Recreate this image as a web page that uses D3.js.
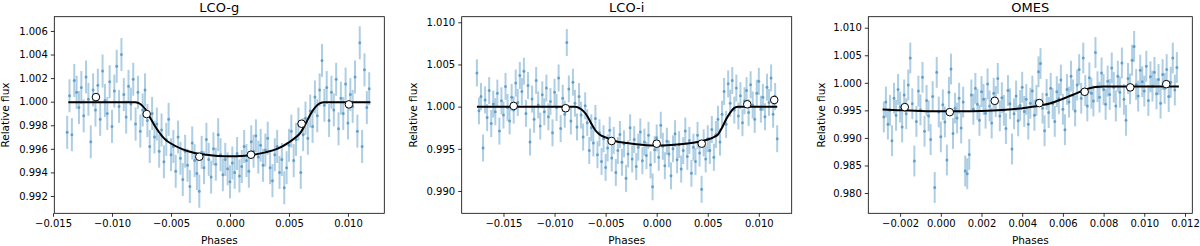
<!DOCTYPE html>
<html><head><meta charset="utf-8">
<script src="https://cdn.jsdelivr.net/npm/d3@7"></script>
<style>body{margin:0;background:#fff}svg{display:block}text{font-family:"DejaVu Sans",sans-serif}</style>
</head><body><svg id="c" width="1200" height="246"></svg>
<script>
const titles = ["LCO-g", "LCO-i", "OMES"];
const xLabel = "Phases";
const yLabel = "Relative flux";

// observed points [phase, relative flux]
const dataG = [
[-0.0138,0.9974],[-0.0136,1.0005],[-0.0134,0.9972],[-0.0132,1.0018],[-0.0130,1.0008],[-0.0128,0.9995],[-0.0126,1.0012],[-0.0124,0.9988],[-0.0122,1.0021],[-0.0120,1.0002],
[-0.0118,0.9966],[-0.0116,1.0010],[-0.0114,0.9993],[-0.0112,1.0014],[-0.0110,0.9985],[-0.0108,1.0026],[-0.0106,1.0001],[-0.0104,0.9990],[-0.0102,1.0017],[-0.0100,0.9979],
[-0.0098,1.0009],[-0.0096,1.0030],[-0.0094,0.9996],[-0.0092,1.0040],[-0.0090,1.0006],[-0.0088,0.9987],[-0.0086,1.0013],[-0.0084,0.9998],[-0.0082,1.0019],[-0.0080,0.9981],
[-0.0078,1.0008],[-0.0076,0.9975],[-0.0074,0.9993],[-0.0072,1.0010],[-0.0070,0.9984],[-0.0068,0.9962],[-0.0066,0.9990],[-0.0064,0.9970],[-0.0062,0.9981],[-0.0060,0.9958],
[-0.0058,0.9976],[-0.0056,0.9949],[-0.0054,0.9968],[-0.0052,0.9985],[-0.0050,0.9955],
[-0.0048,0.9962],[-0.0046,0.9941],[-0.0044,0.9970],[-0.0042,0.9952],[-0.0040,0.9934],[-0.0038,0.9958],[-0.0036,0.9946],[-0.0034,0.9928],[-0.0032,0.9965],[-0.0030,0.9950],
[-0.0028,0.9939],[-0.0026,0.9924],[-0.0024,0.9957],[-0.0022,0.9944],[-0.0020,0.9968],[-0.0018,0.9951],[-0.0016,0.9936],[-0.0014,0.9960],[-0.0012,0.9947],[-0.0010,0.9972],
[-0.0008,0.9955],[-0.0006,0.9938],[-0.0004,0.9951],[-0.0002,0.9943],[0.0000,0.9932],[0.0002,0.9948],[0.0004,0.9940],[0.0006,0.9956],[0.0008,0.9937],[0.0010,0.9945],
[0.0012,0.9962],[0.0014,0.9950],[0.0016,0.9941],[0.0018,0.9966],[0.0020,0.9958],[0.0022,0.9971],[0.0024,0.9953],[0.0026,0.9963],[0.0028,0.9946],[0.0030,0.9959],
[0.0032,0.9969],[0.0034,0.9944],[0.0036,0.9933],[0.0038,0.9955],[0.0040,0.9962],[0.0042,0.9940],[0.0044,0.9951],[0.0046,0.9927],[0.0048,0.9944],
[0.0050,0.9963],[0.0052,0.9975],[0.0054,0.9950],[0.0056,0.9968],[0.0058,0.9981],[0.0060,0.9940],[0.0062,0.9972],[0.0064,0.9986],[0.0066,0.9969],[0.0068,0.9992],
[0.0070,0.9979],[0.0072,1.0004],[0.0074,0.9988],[0.0076,1.0010],
[0.0078,1.0035],[0.0080,0.9997],[0.0082,1.0012],[0.0084,0.9984],[0.0086,1.0008],[0.0088,0.9993],[0.0090,1.0019],[0.0092,0.9977],[0.0094,1.0003],[0.0096,0.9990],
[0.0098,1.0015],[0.0100,0.9982],[0.0102,1.0006],[0.0104,0.9996],[0.0106,1.0021],[0.0108,0.9975],[0.0110,1.0050],[0.0112,0.9962],[0.0114,1.0027],[0.0116,0.9995],[0.0118,1.0011]
];
const dataI = [
[-0.0176,1.0040],[-0.0174,0.9995],[-0.0172,1.0012],[-0.0170,0.9951],[-0.0168,1.0008],[-0.0166,0.9987],[-0.0164,1.0019],[-0.0162,0.9980],[-0.0160,1.0003],[-0.0158,0.9994],
[-0.0156,1.0016],[-0.0154,0.9971],[-0.0152,1.0007],[-0.0150,0.9990],[-0.0148,1.0024],[-0.0146,0.9999],[-0.0144,0.9983],[-0.0142,1.0011],[-0.0140,0.9996],[-0.0138,1.0028],
[-0.0136,1.0005],[-0.0134,1.0037],[-0.0132,1.0018],[-0.0130,1.0042],[-0.0128,0.9992],[-0.0126,1.0025],[-0.0124,0.9958],[-0.0122,1.0009],[-0.0120,0.9985],[-0.0118,1.0031],
[-0.0116,1.0002],[-0.0114,0.9977],[-0.0112,1.0014],[-0.0110,0.9994],[-0.0108,1.0022],[-0.0106,0.9988],[-0.0104,1.0006],[-0.0102,0.9969],[-0.0100,1.0017],[-0.0098,0.9999],
[-0.0096,1.0034],[-0.0094,0.9974],[-0.0092,1.0010],[-0.0090,0.9991],[-0.0088,1.0076],[-0.0086,1.0021],[-0.0084,0.9983],[-0.0082,1.0029],[-0.0080,1.0004],
[-0.0078,0.9976],[-0.0076,1.0012],[-0.0074,0.9990],[-0.0072,0.9964],[-0.0070,1.0001],[-0.0068,0.9981],[-0.0066,0.9948],[-0.0064,0.9975],[-0.0062,0.9957],[-0.0060,0.9986],
[-0.0058,0.9943],[-0.0056,0.9969],[-0.0054,0.9935],[-0.0052,0.9962],[-0.0050,0.9928],
[-0.0048,0.9951],[-0.0046,0.9972],[-0.0044,0.9939],[-0.0042,0.9960],[-0.0040,0.9922],[-0.0038,0.9948],[-0.0036,0.9967],[-0.0034,0.9934],[-0.0032,0.9956],[-0.0030,0.9915],
[-0.0028,0.9944],[-0.0026,0.9975],[-0.0024,0.9938],[-0.0022,0.9961],[-0.0020,0.9929],[-0.0018,0.9952],[-0.0016,0.9970],[-0.0014,0.9936],[-0.0012,0.9958],[-0.0010,0.9942],
[-0.0008,0.9966],[-0.0006,0.9931],[-0.0004,0.9905],[-0.0002,0.9949],[0.0000,0.9963],[0.0002,0.9940],[0.0004,0.9978],[0.0006,0.9953],[0.0008,0.9930],[0.0010,0.9959],
[0.0012,0.9944],[0.0014,0.9918],[0.0016,0.9950],[0.0018,0.9968],[0.0020,0.9937],[0.0022,0.9955],[0.0024,0.9926],[0.0026,0.9948],[0.0028,0.9971],[0.0030,0.9941],
[0.0032,0.9960],[0.0034,0.9921],[0.0036,0.9952],[0.0038,0.9935],[0.0040,0.9966],[0.0042,0.9945],[0.0044,0.9902],[0.0046,0.9957],[0.0048,0.9938],[0.0050,0.9962],
[0.0052,0.9948],[0.0054,0.9973],[0.0056,0.9940],[0.0058,0.9967],[0.0060,0.9985],[0.0062,0.9958],[0.0064,0.9991],[0.0066,1.0018],[0.0068,0.9979],[0.0070,1.0027],
[0.0072,1.0004],[0.0074,1.0031],[0.0076,0.9996],
[0.0078,1.0022],[0.0080,0.9989],[0.0082,1.0013],[0.0084,0.9981],[0.0086,1.0007],[0.0088,1.0019],[0.0090,0.9993],[0.0092,1.0026],[0.0094,1.0002],[0.0096,0.9985],
[0.0098,1.0016],[0.0100,1.0030],[0.0102,0.9997],[0.0104,1.0011],[0.0106,0.9988],[0.0108,1.0023],[0.0110,1.0005],[0.0112,1.0034],[0.0114,0.9991],[0.0116,1.0012],[0.0118,0.9962]
];
const dataO = [
[-0.0028,0.9938],[-0.0027,0.9965],[-0.0026,0.9925],[-0.0025,0.9950],[-0.0024,0.9895],[-0.0023,0.9972],[-0.0022,0.9941],[-0.0021,0.9988],[-0.0020,0.9956],[-0.0019,0.9920],
[-0.0018,0.9978],[-0.0017,0.9944],[-0.0016,0.9996],[-0.0015,1.0045],[-0.0014,0.9962],[-0.0013,0.9858],[-0.0012,0.9930],[-0.0011,0.9985],[-0.0010,0.9951],[-0.0009,1.0010],
[-0.0008,0.9912],[-0.0007,0.9968],[-0.0006,0.9940],[-0.0005,0.9897],[-0.0004,0.9975],[-0.0003,0.9810],[-0.0002,1.0019],[-0.0001,0.9947],[0.0000,0.9902],[0.0001,0.9960],
[0.0002,0.9929],[0.0003,0.9860],[0.0004,0.9983],[0.0005,1.0025],[0.0006,0.9908],[0.0007,0.9954],[0.0008,0.9936],[0.0009,0.9972],[0.0010,0.9918],[0.0011,0.9965],
[0.0012,0.9840],[0.0013,0.9835],[0.0014,0.9870],[0.0015,0.9978],[0.0016,0.9952],[0.0017,0.9990],[0.0018,0.9961],[0.0019,0.9932],[0.0020,0.9984],[0.0021,0.9970],
[0.0022,0.9945],[0.0023,0.9998],[0.0024,0.9958],[0.0025,0.9927],[0.0026,0.9981],[0.0027,0.9966],[0.0028,1.0008],[0.0029,0.9940],[0.0030,0.9973],[0.0031,0.9950],
[0.0032,0.9917],[0.0033,0.9986],[0.0034,0.9962],[0.0035,0.9880],[0.0036,0.9944],[0.0037,0.9976],[0.0038,0.9931],[0.0039,0.9959],[0.0040,0.9992],[0.0041,0.9948],
[0.0042,0.9970],[0.0043,0.9925],[0.0044,0.9963],[0.0045,0.9985],[0.0046,0.9941],[0.0047,0.9968],[0.0048,1.0020],[0.0049,1.0035],[0.0050,0.9954],[0.0051,0.9913],
[0.0052,0.9979],[0.0053,0.9946],[0.0054,0.9990],[0.0055,0.9962],[0.0056,0.9930],[0.0057,0.9984],[0.0058,0.9971],[0.0059,1.0005],[0.0060,0.9952],[0.0061,0.9915],
[0.0062,0.9988],[0.0063,0.9965],[0.0064,1.0012],[0.0065,0.9978],[0.0066,0.9949],[0.0067,0.9996],[0.0068,1.0024],[0.0069,0.9972],[0.0070,1.0045],[0.0071,0.9986],
[0.0072,0.9958],[0.0073,1.0009],[0.0074,0.9981],[0.0075,0.9967],[0.0076,1.0055],[0.0077,0.9993],[0.0078,0.9974],[0.0079,1.0018],[0.0080,0.9988],[0.0081,0.9961],
[0.0082,1.0003],[0.0083,0.9979],[0.0084,1.0027],[0.0085,0.9992],[0.0086,0.9958],[0.0087,1.0012],[0.0088,0.9983],[0.0089,1.0036],[0.0090,0.9970],[0.0091,0.9932],
[0.0092,1.0008],[0.0093,0.9989],[0.0094,1.0041],[0.0095,1.0066],[0.0096,0.9997],[0.0097,0.9976],[0.0098,1.0023],[0.0099,1.0002],[0.0100,0.9985],[0.0101,1.0030],
[0.0102,0.9968],[0.0103,1.0011],[0.0104,0.9994],[0.0105,1.0019],[0.0106,0.9980],[0.0107,1.0006],[0.0108,0.9963],[0.0109,1.0015],[0.0110,0.9990],[0.0111,1.0024],
[0.0112,0.9975],[0.0113,1.0001],[0.0114,1.0045],[0.0115,0.9987],[0.0116,1.0028]
];
// typical flux uncertainty per instrument
const errG = 0.0014, errI = 0.0016, errO = 0.0028;

// transit model curves [phase, flux]
const modelG = [[-0.0137,0.99995],[-0.0080,0.99995],[-0.0076,0.9998],[-0.0072,0.9994],[-0.0068,0.9987],[-0.0064,0.9980],[-0.0060,0.9974],[-0.0055,0.9968],[-0.0050,0.99645],[-0.0040,0.99595],[-0.0030,0.99565],[-0.0020,0.9955],[-0.0010,0.9954],[0,0.99537],[0.0010,0.9954],[0.0020,0.9955],[0.0030,0.9957],[0.0040,0.9960],[0.0050,0.99655],[0.0056,0.9970],[0.0060,0.9974],[0.0064,0.9981],[0.0068,0.9989],[0.0072,0.9995],[0.0076,0.99985],[0.0080,0.99995],[0.0119,0.99995]];
const modelI = [[-0.0176,1.0000],[-0.0080,1.0000],[-0.0076,0.99985],[-0.0072,0.9995],[-0.0068,0.9989],[-0.0064,0.9980],[-0.0060,0.9972],[-0.0056,0.9967],[-0.0050,0.99635],[-0.0040,0.9959],[-0.0030,0.9957],[-0.0020,0.99553],[-0.0010,0.99543],[0,0.9954],[0.0010,0.99542],[0.0020,0.9955],[0.0030,0.99562],[0.0040,0.9958],[0.0050,0.9961],[0.0056,0.9964],[0.0060,0.9967],[0.0064,0.9975],[0.0068,0.9985],[0.0072,0.9993],[0.0076,0.99985],[0.0080,1.0000],[0.0118,1.0000]];
const modelO = [[-0.00286,0.99517],[-0.0020,0.9950],[-0.0010,0.99488],[0,0.99482],[0.0010,0.99482],[0.0020,0.99488],[0.0030,0.99505],[0.0040,0.9954],[0.0049,0.9959],[0.0054,0.9963],[0.0059,0.99695],[0.0064,0.9977],[0.0068,0.9983],[0.0072,0.9989],[0.0076,0.99925],[0.0080,0.99935],[0.0117,0.99935]];

// binned points [phase, flux, error]
const binsG = [[-0.01136,1.00039,0.0001],[-0.00706,0.99895,0.0001],[-0.0026,0.99533,0.0001],[0.00178,0.9955,0.0001],[0.00607,0.99813,0.0001],[0.01008,0.99977,0.0001]];
const binsI = [[-0.0140,1.00008,0.0001],[-0.00891,0.99981,0.0001],[-0.00441,0.99593,0.0001],[0.0000,0.99561,0.0001],[0.00441,0.99561,0.0001],[0.00887,1.00028,0.0001],[0.01151,1.00079,0.0005]];
const binsO = [[-0.00177,0.99559,0.0002],[0.00044,0.99468,0.0002],[0.00265,0.99673,0.0002],[0.00484,0.99632,0.0002],[0.00707,0.99837,0.0002],[0.00931,0.99917,0.0002],[0.01108,0.99976,0.0002]];

// tick values
const xTicksG = [-0.015,-0.010,-0.005,0.000,0.005,0.010];
const yTicksG = [0.992,0.994,0.996,0.998,1.000,1.002,1.004,1.006];
const xTicksI = [-0.015,-0.010,-0.005,0.000,0.005,0.010];
const yTicksI = [0.990,0.995,1.000,1.005,1.010];
const xTicksO = [-0.002,0.000,0.002,0.004,0.006,0.008,0.010,0.012];
const yTicksO = [0.980,0.985,0.990,0.995,1.000,1.005,1.010];

const panels = [
  {title:titles[0], data:dataG, err:errG, model:modelG, bins:binsG, xt:xTicksG, yt:yTicksG, left:54.3, right:384.3, xd:[-0.01489,0.01308], yd:[0.99053,1.00721], ylx:9},
  {title:titles[1], data:dataI, err:errI, model:modelI, bins:binsI, xt:xTicksI, yt:yTicksI, left:461.7, right:791.7, xd:[-0.01909,0.01322], yd:[0.98736,1.01066], ylx:416.5},
  {title:titles[2], data:dataO, err:errO, model:modelO, bins:binsO, xt:xTicksO, yt:yTicksO, left:868.3, right:1192.3, xd:[-0.003563,0.012359], yd:[0.97632,1.0120], ylx:825}
];
const plotTop = 16.7, plotBottom = 213.3;
const svg = d3.select("#c");
const fmt = d3.format(".3f");
const blue = "#1f77b4";

panels.forEach(p => {
  const x = d3.scaleLinear().domain(p.xd).range([p.left, p.right]);
  const y = d3.scaleLinear().domain(p.yd).range([plotBottom, plotTop]);
  const g = svg.append("g");

  g.append("g").selectAll("line").data(p.data).join("line")
    .attr("x1", d => x(d[0])).attr("x2", d => x(d[0]))
    .attr("y1", d => y(d[1] - p.err)).attr("y2", d => y(d[1] + p.err))
    .attr("stroke", blue).attr("stroke-opacity", 0.36).attr("stroke-width", 2);
  g.append("g").selectAll("circle").data(p.data).join("circle")
    .attr("cx", d => x(d[0])).attr("cy", d => y(d[1])).attr("r", 1.5)
    .attr("fill", blue).attr("fill-opacity", 0.55);

  g.append("path").datum(p.model)
    .attr("d", d3.line().x(d => x(d[0])).y(d => y(d[1])).curve(d3.curveMonotoneX))
    .attr("fill", "none").attr("stroke", "#000").attr("stroke-width", 2);

  g.append("g").selectAll("line").data(p.bins).join("line")
    .attr("x1", d => x(d[0])).attr("x2", d => x(d[0]))
    .attr("y1", d => y(d[1] - d[2])).attr("y2", d => y(d[1] + d[2]))
    .attr("stroke", "#000").attr("stroke-width", 1.2);
  g.append("g").selectAll("circle").data(p.bins).join("circle")
    .attr("cx", d => x(d[0])).attr("cy", d => y(d[1])).attr("r", 3.8)
    .attr("fill", "#fff").attr("stroke", "#000").attr("stroke-width", 1);

  const ax = g.append("g").attr("transform", `translate(0,${plotBottom})`)
    .call(d3.axisBottom(x).tickValues(p.xt).tickFormat(fmt).tickSize(3.5).tickPadding(3));
  const ay = g.append("g").attr("transform", `translate(${p.left},0)`)
    .call(d3.axisLeft(y).tickValues(p.yt).tickFormat(fmt).tickSize(3.5).tickPadding(3));
  [ax, ay].forEach(a => {
    a.select(".domain").remove();
    a.selectAll("line").attr("stroke", "#000").attr("stroke-width", 0.8);
    a.selectAll("text").attr("font-size", 10).attr("fill", "#000").attr("font-family", '"DejaVu Sans", sans-serif');
  });

  g.append("rect").attr("x", p.left).attr("y", plotTop)
    .attr("width", p.right - p.left).attr("height", plotBottom - plotTop)
    .attr("fill", "none").attr("stroke", "#000").attr("stroke-width", 0.8);

  g.append("text").attr("x", (p.left + p.right) / 2).attr("y", 12)
    .attr("text-anchor", "middle").attr("font-size", 13).text(p.title);
  g.append("text").attr("x", (p.left + p.right) / 2).attr("y", 244)
    .attr("text-anchor", "middle").attr("font-size", 10.5).text(xLabel);
  g.append("text").attr("transform", `translate(${p.ylx},${(plotTop + plotBottom) / 2}) rotate(-90)`)
    .attr("text-anchor", "middle").attr("font-size", 10.5).text(yLabel);
});
</script></body></html>
